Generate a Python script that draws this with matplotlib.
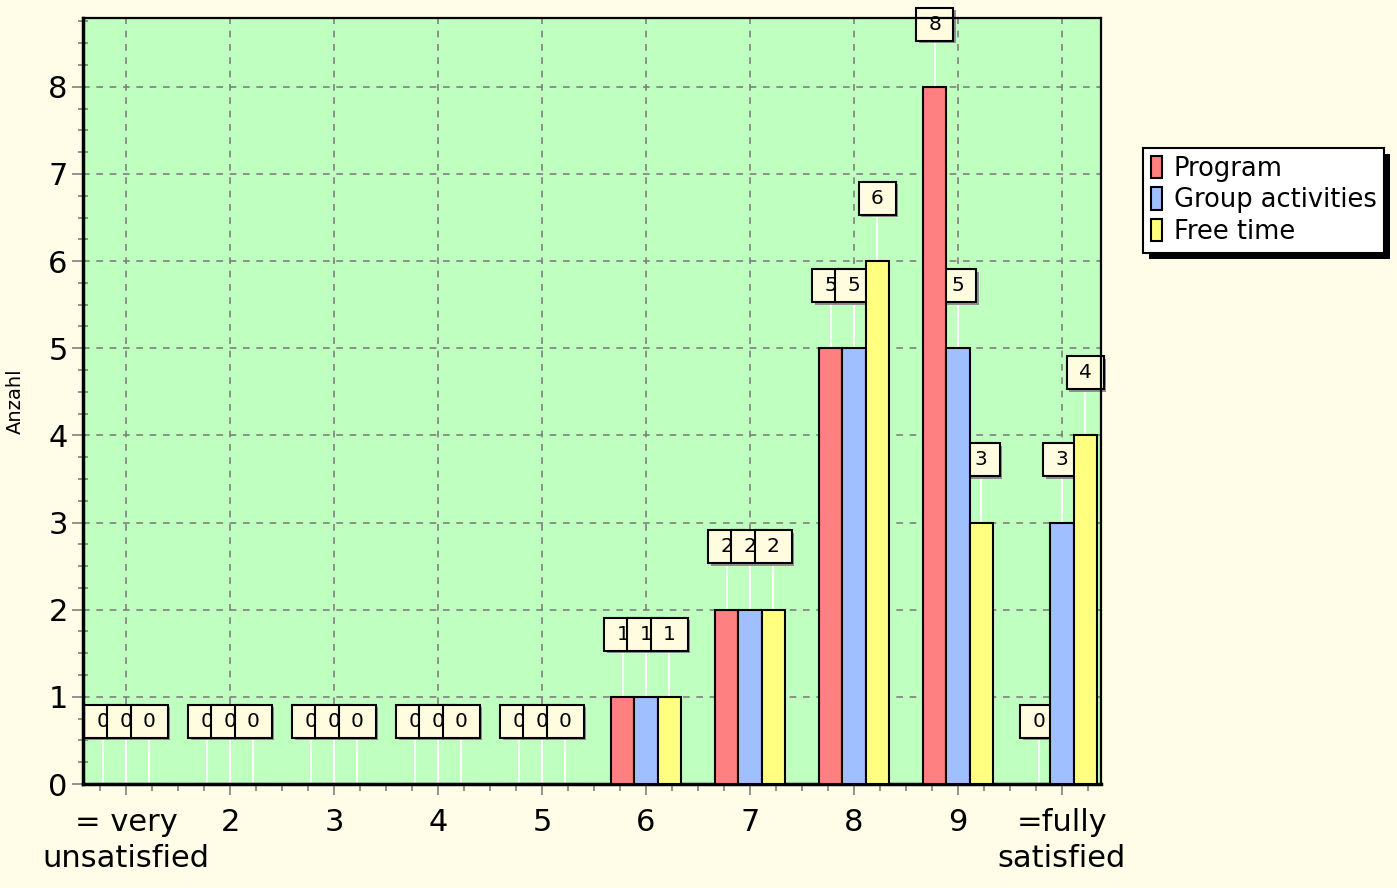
import matplotlib
matplotlib.use("Agg")
import matplotlib.pyplot as plt
from matplotlib.patches import Rectangle
from matplotlib.transforms import ScaledTranslation
from matplotlib.ticker import MultipleLocator

plt.rcParams['font.family'] = ['DejaVu Sans']

# data
categories = [1, 2, 3, 4, 5, 6, 7, 8, 9, 10]
tick_labels = ['= very\nunsatisfied', '2', '3', '4', '5', '6', '7', '8', '9', '=fully\nsatisfied']
program = [0, 0, 0, 0, 0, 1, 2, 5, 8, 0]
group_activities = [0, 0, 0, 0, 0, 1, 2, 5, 5, 3]
free_time = [0, 0, 0, 0, 0, 1, 2, 6, 3, 4]

series_names = ['Program', 'Group activities', 'Free time']
series_colors = ['#FF8080', '#A0BFFF', '#FFFF80']

fig = plt.figure(figsize=(13.97, 8.88), dpi=100, facecolor='#FFFDE7')
ax = fig.add_axes([83 / 1397, 1 - 784 / 888, (1101 - 83) / 1397, (784 - 18) / 888])
ax.set_facecolor('#BFFFBF')

bar_w = 0.222
offsets = [-bar_w, 0, bar_w]
label_dy = 0.72
box_w, box_h = 0.37, 0.33  # inches

for s, (name, vals, col) in enumerate(zip(series_names, [program, group_activities, free_time], series_colors)):
    xs = [c + offsets[s] for c in categories]
    ax.bar(xs, vals, width=bar_w, color=col, edgecolor='black', linewidth=1.5,
           label=name, zorder=3)
    for x, v in zip(xs, vals):
        yc = v + label_dy
        # white connector from bar top to label
        ax.plot([x, x], [v, yc], color='white', lw=1.5, zorder=1.5, clip_on=False)
        base = fig.dpi_scale_trans + ScaledTranslation(x, yc, ax.transData)
        shadow = Rectangle((-box_w / 2 + 0.025, -box_h / 2 - 0.025), box_w, box_h,
                           transform=base, facecolor='#909090', edgecolor='none',
                           zorder=1.8 + 0.1 * s, clip_on=False)
        box = Rectangle((-box_w / 2, -box_h / 2), box_w, box_h, transform=base,
                        facecolor='#FFFCE0', edgecolor='black', linewidth=1.5,
                        zorder=1.9 + 0.1 * s, clip_on=False)
        ax.add_patch(shadow)
        ax.add_patch(box)
        ax.text(x, yc, str(v), ha='center', va='center', fontsize=14.5,
                zorder=1.95 + 0.1 * s, clip_on=False)

ax.set_xlim(0.587, 10.375)
ax.set_ylim(0, 8.79)

ax.set_xticks(categories)
ax.set_xticklabels(tick_labels, fontsize=22, linespacing=1.3)
ax.set_yticks(range(0, 9))
ax.set_yticklabels([str(i) for i in range(0, 9)], fontsize=22)
ax.xaxis.set_minor_locator(MultipleLocator(0.25))
ax.yaxis.set_minor_locator(MultipleLocator(0.25))
ax.tick_params(axis='both', which='major', length=8, width=1.2, color='#808080')
ax.tick_params(axis='x', which='major', pad=9)
ax.tick_params(axis='y', which='major', pad=3)
ax.tick_params(axis='x', which='minor', length=5, width=1.2, color='#808080')
ax.tick_params(axis='y', which='minor', direction='inout', length=7, width=1.2, color='#808080')

ax.set_axisbelow(True)
ax.grid(True, which='major', color='#808080', linestyle=(0, (4, 4)), linewidth=1.2)

for side in ['left', 'bottom']:
    ax.spines[side].set_linewidth(2.5)
for side in ['top', 'right']:
    ax.spines[side].set_linewidth(1.6)

ax.set_ylabel('Anzahl', fontsize=14)
ax.yaxis.set_label_coords((25 - 83) / 1018, 0.5)

leg = fig.legend(loc='upper left', bbox_to_anchor=(1143 / 1397, 1 - 148 / 888),
                 borderaxespad=0, fontsize=18.5, handlelength=0.45, handleheight=0.95,
                 handletextpad=0.45, labelspacing=0.22, borderpad=0.3,
                 fancybox=False, framealpha=1, edgecolor='black')
leg.get_frame().set_linewidth(1.5)
leg.get_frame().set_facecolor('white')

# solid black drop shadow behind the legend
fig.canvas.draw()
bb = leg.get_window_extent()
fig.patches.append(Rectangle((bb.x0 + 6, bb.y0 - 6), bb.width, bb.height,
                             transform=None, facecolor='black', edgecolor='none',
                             zorder=leg.get_zorder() - 0.1))

fig.savefig('out.png', dpi=100, facecolor=fig.get_facecolor())
